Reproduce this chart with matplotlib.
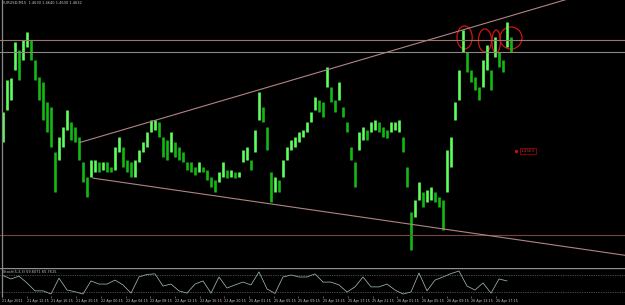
import matplotlib
matplotlib.use("Agg")
import matplotlib.pyplot as plt
from matplotlib.patches import Ellipse
import numpy as np

plt.rcParams['font.family'] = ['Liberation Sans Narrow', 'DejaVu Sans']

# EURUSD M15 bars (high / low)
highs = [1.4590, 1.4613, 1.4614, 1.4639, 1.4634, 1.4641, 1.4646, 1.4641, 1.4627, 1.4615,
         1.4611, 1.4597, 1.4594, 1.4562, 1.4573, 1.4580, 1.4592, 1.4583, 1.4580, 1.4573,
         1.4555, 1.4545, 1.4557, 1.4557, 1.4555, 1.4555, 1.4555, 1.4552, 1.4566, 1.4573,
         1.4566, 1.4557, 1.4555, 1.4557, 1.4564, 1.4569, 1.4576, 1.4585, 1.4585, 1.4583,
         1.4573, 1.4571, 1.4576, 1.4569, 1.4566, 1.4562, 1.4555, 1.4555, 1.4552, 1.4555,
         1.4552, 1.4550, 1.4545, 1.4543, 1.4548, 1.4555, 1.4550, 1.4550, 1.4548, 1.4548,
         1.4564, 1.4566, 1.4557, 1.4578, 1.4604, 1.4594, 1.4580, 1.4548, 1.4545, 1.4543,
         1.4557, 1.4566, 1.4571, 1.4573, 1.4576, 1.4578, 1.4583, 1.4590, 1.4601, 1.4599,
         1.4597, 1.4622, 1.4608, 1.4599, 1.4611, 1.4594, 1.4583, 1.4566, 1.4555, 1.4576,
         1.4580, 1.4578, 1.4583, 1.4585, 1.4583, 1.4580, 1.4578, 1.4583, 1.4583, 1.4585,
         1.4573, 1.4552, 1.4520, 1.4529, 1.4541, 1.4534, 1.4536, 1.4538, 1.4534, 1.4531,
         1.4529, 1.4564, 1.4573, 1.4597, 1.4620, 1.4648, 1.4632, 1.4620, 1.4615, 1.4608,
         1.4627, 1.4637, 1.4620, 1.4643, 1.4632, 1.4627, 1.4653, 1.4643]
lows = [1.4569, 1.4592, 1.4599, 1.4620, 1.4613, 1.4627, 1.4636, 1.4627, 1.4613, 1.4599,
        1.4585, 1.4576, 1.4566, 1.4534, 1.4557, 1.4566, 1.4578, 1.4571, 1.4569, 1.4557,
        1.4541, 1.4531, 1.4545, 1.4548, 1.4548, 1.4550, 1.4548, 1.4548, 1.4550, 1.4562,
        1.4552, 1.4548, 1.4545, 1.4545, 1.4555, 1.4562, 1.4566, 1.4576, 1.4578, 1.4573,
        1.4559, 1.4557, 1.4562, 1.4559, 1.4557, 1.4555, 1.4550, 1.4548, 1.4546, 1.4548,
        1.4548, 1.4543, 1.4538, 1.4534, 1.4541, 1.4545, 1.4544, 1.4545, 1.4544, 1.4545,
        1.4555, 1.4557, 1.4550, 1.4562, 1.4585, 1.4583, 1.4564, 1.4527, 1.4534, 1.4534,
        1.4545, 1.4557, 1.4564, 1.4566, 1.4569, 1.4573, 1.4576, 1.4583, 1.4592, 1.4590,
        1.4587, 1.4608, 1.4597, 1.4590, 1.4599, 1.4587, 1.4576, 1.4557, 1.4538, 1.4564,
        1.4571, 1.4571, 1.4576, 1.4578, 1.4576, 1.4573, 1.4572, 1.4576, 1.4578, 1.4576,
        1.4562, 1.4538, 1.4494, 1.4517, 1.4529, 1.4524, 1.4527, 1.4529, 1.4527, 1.4524,
        1.4508, 1.4534, 1.4552, 1.4585, 1.4599, 1.4632, 1.4618, 1.4611, 1.4606, 1.4599,
        1.4608, 1.4620, 1.4606, 1.4629, 1.4622, 1.4618, 1.4636, 1.4632]

# Stochastic(5,3,3) main line, every second bar
stoch = [78, 66, 76, 52, 24, 24, 13, 69, 27, 21, 13, 59, 48, 48, 62, 45,
         16, 73, 82, 84, 41, 48, 24, 16, 48, 59, 16, 73, 34, 45, 55, 45,
         91, 31, 15, 73, 80, 73, 73, 84, 55, 55, 45, 20, 38, 73, 38, 38,
         48, 27, 13, 20, 87, 24, 62, 73, 85, 94, 41, 27, 52, 16, 66, 59]

date_labels = ["21 Apr 2011", "21 Apr 12:15", "21 Apr 16:15", "21 Apr 20:15", "22 Apr 00:15",
               "22 Apr 04:15", "22 Apr 08:15", "22 Apr 12:15", "22 Apr 16:15", "22 Apr 20:15",
               "25 Apr 01:15", "25 Apr 05:15", "25 Apr 09:15", "25 Apr 13:15", "25 Apr 17:15",
               "25 Apr 21:15", "26 Apr 01:15", "26 Apr 05:15", "26 Apr 09:15", "26 Apr 13:15",
               "26 Apr 17:15"]

h_levels = [1.4641, 1.4632, 1.4504]
h_colors = ['#a07272', '#8e8686', '#7a4444']
# trend lines: start point and a second point (bar index, price)
trends = [((19.25, 1.4569), (123.75, 1.4655)),
          ((22.5, 1.4544), (155.5, 1.4490))]
# red circles drawn on the highs: centre bar, centre price, width (bars), height
circles = [(115.4, 1.46425, 3.8, 0.00161), (120.5, 1.46404, 3.3, 0.00161),
           (123.3, 1.46397, 2.1, 0.00161), (127.0, 1.46421, 5.5, 0.00154)]
alert_bar, alert_price = 128.3, 1.4563
title = "EURUSD,M15  1.4630 1.4640 1.4630 1.4632"
stoch_title = "Stoch(5,3,3) 59.6071 65.7615"

W, H = 625, 305
fig = plt.figure(figsize=(W / 100, H / 100), dpi=100, facecolor='black')
ax = fig.add_axes([0, 1 - 267 / H, 1, 267 / H], facecolor='black')
ax2 = fig.add_axes([0, 9 / H, 1, 28 / H], facecolor='black')

x = np.arange(len(highs))
mid = (np.array(highs) + np.array(lows)) / 2
up = np.r_[True, mid[1:] >= mid[:-1]]
cols = np.where(up, '#5cff5c', '#14b814')
ax.vlines(x, lows, highs, colors=cols, linewidth=1.9)

for lvl, c in zip(h_levels, h_colors):
    ax.axhline(lvl, color=c, linewidth=0.8)

for (x0, y0), (x1, y1) in trends:
    k = (y1 - y0) / (x1 - x0)
    ax.plot([x0, 170], [y0, y0 + k * (170 - x0)], color='#b08484', linewidth=0.8)

for cx, cy, w, h in circles:
    ax.add_patch(Ellipse((cx, cy), w, h, fill=False, edgecolor='#d01414', linewidth=0.9))

ax.plot(alert_bar, alert_price, 'o', color='#c01010', markersize=1.5)
ax.text(alert_bar + 1.2, alert_price, "1.4563", color='#c03030', fontsize=3,
        va='center', ha='left',
        bbox=dict(boxstyle='square,pad=0.25', fc='black', ec='#a00000', lw=0.6))

ax.text(0.004, 0.995, title, transform=ax.transAxes, color='#c8c8c8', fontsize=2.6,
        va='top', ha='left')

xmin, xmax = -0.75, 155.5
ax.set_xlim(xmin, xmax)
ax.set_ylim(1.44818, 1.46687)
ax.set_xticks([])
ax.set_yticks([])
for s in ax.spines.values():
    s.set_visible(False)

# stochastic sub-window
ax2.plot(np.arange(0, len(highs), 2), stoch, color='#9ab8aa', linewidth=0.55)
for lvl in (80, 20):
    ax2.axhline(lvl, color='#8a8a8a', linewidth=0.5, linestyle=(0, (1, 1.5)))
ax2.axhline(104.7, color='#909090', linewidth=1.0)
ax2.text(0.005, 0.86, stoch_title, transform=ax2.transAxes, color='#c8c8c8',
         fontsize=2.5, va='center', ha='left')
ax2.set_xlim(xmin, xmax)
ax2.set_ylim(5.9, 104.7)
ax2.set_yticks([])
tick_pos = (2 + 24.7 * np.arange(len(date_labels)) - 3) / 4
ax2.set_xticks(tick_pos)
ax2.set_xticklabels(date_labels, fontsize=2.4, color='#c8c8c8', ha='left')
ax2.tick_params(axis='x', length=1.5, width=0.4, color='#a0a0a0', pad=1)
for s in ax2.spines.values():
    s.set_visible(False)

# left frame line
fig.add_artist(plt.Line2D([2 / W, 2 / W], [9 / H, 1], color='#8a8a8a', linewidth=0.9))

fig.savefig('out.png', dpi=100, facecolor='black')
